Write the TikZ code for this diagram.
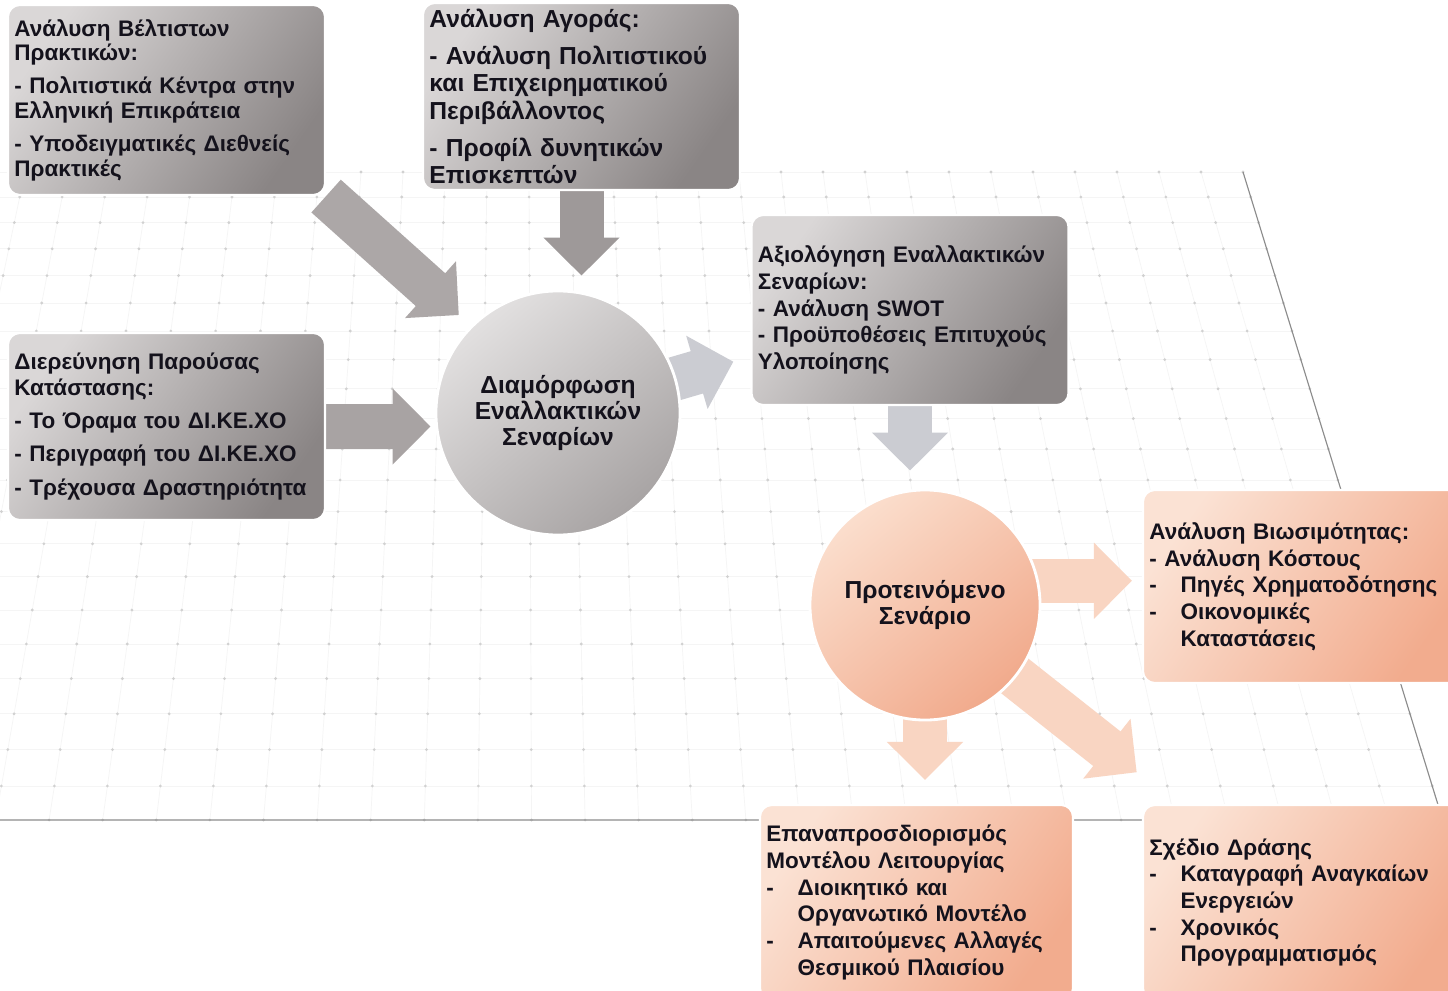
\documentclass[tikz,border=0pt]{standalone}
\usepackage{fontspec}
\setmainfont{Liberation Sans}
\usetikzlibrary{arrows.meta,positioning,calc}
\definecolor{gboxl}{RGB}{218,215,215}
\definecolor{gboxd}{RGB}{138,133,133}
\definecolor{oboxl}{RGB}{251,226,212}
\definecolor{oboxd}{RGB}{242,172,142}
\definecolor{gcirl}{RGB}{226,224,224}
\definecolor{gcird}{RGB}{168,164,164}
\definecolor{ocirl}{RGB}{251,222,205}
\definecolor{ocird}{RGB}{241,170,140}
\definecolor{garrA}{RGB}{172,167,167}
\definecolor{garrB}{RGB}{158,153,153}
\definecolor{garrC}{RGB}{168,163,163}
\definecolor{larr}{RGB}{203,204,210}
\definecolor{parr}{RGB}{249,213,194}
\definecolor{txt}{RGB}{20,18,28}
\pgfdeclarelayer{bg}
\pgfsetlayers{bg,main}
\newcommand\hitem{\makebox[0.78cm][l]{-}}
\newcommand\hcont{\hspace*{0.78cm}}

\begin{document}
\begin{tikzpicture}[x=0.025cm,y=-0.025cm,
  box/.style={rounded corners=0.3cm,draw=white,line width=1.5pt,minimum width=7.925cm,minimum height=4.75cm,text width=7.6cm,inner xsep=0.16cm,align=left,text=txt,font=\fontsize{16}{19}\selectfont\bfseries},
  graybox/.style={box,top color=gboxl,bottom color=gboxd,shading angle=55},
  peachbox/.style={box,top color=oboxl,bottom color=oboxd,shading angle=55},
  ball/.style={circle,draw=white,line width=2pt,align=center,text=txt,font=\fontsize{17.5}{18.5}\selectfont\bfseries},
  grayball/.style={ball,top color=gcirl,bottom color=gcird,shading angle=40},
  peachball/.style={ball,top color=ocirl,bottom color=ocird,shading angle=40},
  blk/.style={draw=#1,line width=1.1cm,-{Triangle[width=1.85cm,length=0.95cm]}},
  gridline/.style={draw=black!4,line width=0.5pt}]
\useasboundingbox (0,0) rectangle (1448,991);

\node[graybox,font=\fontsize{16}{17.5}\selectfont\bfseries] (bp) at (166.5,100) {Ανάλυση Βέλτιστων\\Πρακτικών:\\[6pt]- Πολιτιστικά Κέντρα στην\\Ελληνική Επικράτεια\\[6pt]- Υποδειγματικές Διεθνείς\\Πρακτικές};
\node[graybox,minimum height=4.675cm,font=\fontsize{17.5}{19.5}\selectfont\bfseries] (mk) at (581.5,96.5) {Ανάλυση Αγοράς:\\[7pt]- Ανάλυση Πολιτιστικού\\και Επιχειρηματικού\\Περιβάλλοντος\\[7pt]- Προφίλ δυνητικών\\Επισκεπτών};
\node[graybox,minimum height=4.675cm,font=\fontsize{16}{18.5}\selectfont\bfseries] (cs) at (166.5,426.5) {Διερεύνηση Παρούσας\\Κατάστασης:\\[5pt]- Το Όραμα του ΔΙ.ΚΕ.ΧΟ\\[5pt]- Περιγραφή του ΔΙ.ΚΕ.ΧΟ\\[5pt]- Τρέχουσα Δραστηριότητα};
\node[grayball,minimum size=6.1cm] (as) at (558,413) {Διαμόρφωση\\Εναλλακτικών\\Σεναρίων};
\node[graybox] (ev) at (910,310) {Αξιολόγηση Εναλλακτικών\\Σεναρίων:\\- Ανάλυση SWOT\\- Προϋποθέσεις Επιτυχούς\\Υλοποίησης};
\node[peachball,minimum size=5.75cm] (ps) at (925,605) {Προτεινόμενο\\Σενάριο};
\node[peachbox,minimum height=4.825cm] (vb) at (1301.5,586.5) {Ανάλυση Βιωσιμότητας:\\- Ανάλυση Κόστους\\\hitem Πηγές Χρηματοδότησης\\\hitem Οικονομικές\\\hcont Καταστάσεις};
\node[peachbox,minimum width=7.825cm,text width=7.5cm,minimum height=4.875cm] (om) at (916.5,902.5) {Επαναπροσδιορισμός\\Μοντέλου Λειτουργίας\\\hitem Διοικητικό και\\\hcont Οργανωτικό Μοντέλο\\\hitem Απαιτούμενες Αλλαγές\\\hcont Θεσμικού Πλαισίου};
\node[peachbox,minimum height=4.875cm] (ap) at (1301.5,902.5) {Σχέδιο Δράσης\\\hitem Καταγραφή Αναγκαίων\\\hcont Ενεργειών\\\hitem Χρονικός\\\hcont Προγραμματισμός};

\begin{pgfonlayer}{bg}
\fill[white] (0,0) rectangle (1448,991);
\foreach \k in {0,...,30}
  \draw[gridline] ({1243-42*\k},172) -- ({520+(723-42*\k)*1.27621},820);
\foreach \n in {0,...,20} {
  \pgfmathsetmacro\yy{172+25*\n+0.3*\n*(\n-1)}
  \pgfmathsetmacro\ff{(\yy+2174)/2346}
  \draw[gridline] (0,\yy) -- ({520+723*\ff},\yy);
  \foreach \k in {0,...,30}
    \fill[black!18] ({520+(723-42*\k)*\ff},\yy) circle (1.1pt);
}
\foreach \k in {0,...,30}
  \fill[black!18] ({520+(723-42*\k)*1.27621},820) circle (1.1pt);
\draw[black!45,line width=0.8pt] (1243,172) -- (1442.7,820) -- (0,820);

\draw[blk=garrA,shorten >=0.4cm] (bp.south east) -- (as.north west);
\draw[blk=garrB,shorten >=0.35cm] (mk.south) -- (mk.south |- as.north);
\draw[blk=garrC,shorten >=0.1cm] (cs.east) -- (cs.east -| as.west);
\draw[blk=larr,shorten <=2.9cm,shorten >=4.6cm] (as.center) -- (ev.center);
\draw[blk=larr,shorten >=0.45cm] (ev.south) -- (ev.south |- ps.north);
\draw[blk=parr,shorten <=-0.5cm,shorten >=0.25cm] (ps.12) -- (ps.12 -| vb.west);
\draw[blk=parr,shorten <=2.5cm,shorten >=5.25cm] (ps.center) -- (ap.center);
\draw[blk=parr,shorten <=-0.3cm,shorten >=0.6cm] (ps.south) -- (ps.south |- om.north);
\end{pgfonlayer}
\end{tikzpicture}
\end{document}
